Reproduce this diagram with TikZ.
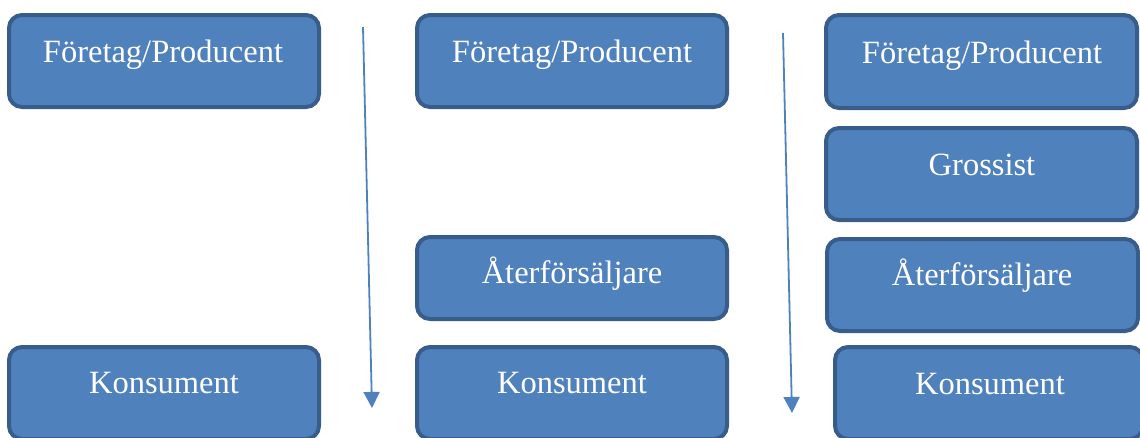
\documentclass[tikz,border=0pt]{standalone}
\usepackage{fontspec}
\setmainfont{Liberation Serif}
\usetikzlibrary{arrows.meta}
\definecolor{boxfill}{HTML}{4F81BD}
\definecolor{boxline}{HTML}{385D8A}
\begin{document}
\begin{tikzpicture}[x=1pt,y=-1pt,
  box/.style={draw=boxline, fill=boxfill, line width=4pt, rounded corners=13pt, inner sep=0pt},
  lbl/.style={text=white, font=\fontsize{32.5}{38}\selectfont, anchor=base, inner sep=0pt},
  flow/.style={draw=boxfill, line width=1.8pt, -{Triangle[length=16pt,width=16pt]}}]
\useasboundingbox (0,0) rectangle (1140,437);
% column 1
\node[box, minimum width=310pt, minimum height=92pt] (f1) at (164,61) {};
\node[lbl] (f1t) at (163,62) {Företag/Producent};
\node[box, minimum width=310pt, minimum height=92pt] (k1) at (164,393) {};
\node[lbl] (k1t) at (164,393) {Konsument};
% column 2
\node[box, minimum width=310pt, minimum height=92pt] (f2) at (572,61) {};
\node[lbl] (f2t) at (572,62) {Företag/Producent};
\node[box, minimum width=310pt, minimum height=82pt] (a2) at (572,278) {};
\node[lbl] (a2t) at (572,283) {Återförsäljare};
\node[box, minimum width=310pt, minimum height=92pt] (k2) at (572,393) {};
\node[lbl] (k2t) at (572,393) {Konsument};
% column 3
\node[box, minimum width=311pt, minimum height=93pt] (f3) at (981.5,61.5) {};
\node[lbl] (f3t) at (982,63) {Företag/Producent};
\node[box, minimum width=311pt, minimum height=92pt] (g3) at (981.5,174) {};
\node[lbl] (g3t) at (982,175) {Grossist};
\node[box, minimum width=311pt, minimum height=92pt] (a3) at (982.5,285) {};
\node[lbl] (a3t) at (982,285) {Återförsäljare};
\node[box, minimum width=308pt, minimum height=92pt] (k3) at (989,393) {};
\node[lbl] (k3t) at (990,394) {Konsument};
% arrows
\coordinate (s1) at (363,27);
\coordinate (e1) at (372,408);
\coordinate (s2) at (783,33);
\coordinate (e2) at (792,413);
\draw[flow] (s1) -- (e1);
\draw[flow] (s2) -- (e2);
\end{tikzpicture}
\end{document}
